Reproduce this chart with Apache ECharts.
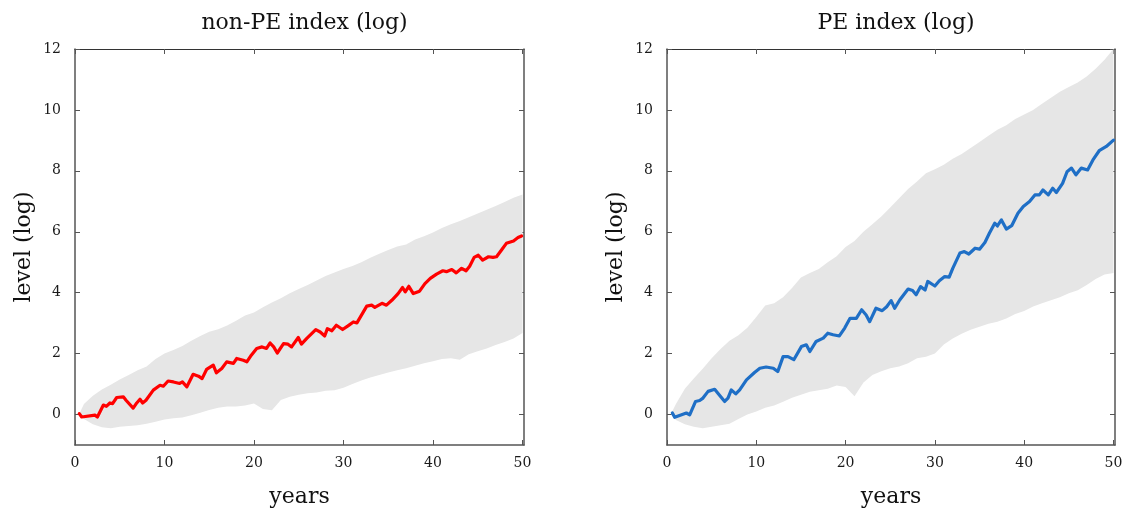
<!DOCTYPE html>
<html>
<head>
<meta charset="utf-8">
<script src="https://cdn.jsdelivr.net/npm/echarts@6/dist/echarts.min.js"></script>
<style>
html,body{margin:0;padding:0;background:#fff;}
#chart{width:1127px;height:513px;}
</style>
</head>
<body>
<div id="chart"></div>
<script>
// ---- data ----
const panelTitles = ['non-PE index (log)', 'PE index (log)'];
const xTickValues = [0, 10, 20, 30, 40, 50];
const yTickValues = [0, 2, 4, 6, 8, 10, 12];

const bandYears = [0.5,1,2,3,4,5,6,7,8,9,10,11,12,13,14,15,16,17,18,19,20,21,22,23,24,25,26,27,28,29,30,31,32,33,34,35,36,37,38,39,40,41,42,43,44,45,46,47,48,49,50];

const nonPeUpper = [0.03,0.35,0.62,0.82,0.98,1.15,1.30,1.45,1.58,1.82,2.0,2.12,2.25,2.42,2.58,2.72,2.80,2.92,3.08,3.25,3.35,3.52,3.68,3.82,3.98,4.12,4.25,4.40,4.55,4.66,4.78,4.88,5.0,5.15,5.28,5.40,5.52,5.58,5.75,5.85,5.98,6.12,6.25,6.35,6.48,6.6,6.72,6.85,6.98,7.12,7.22];
const nonPeLower = [0.0,-0.15,-0.32,-0.42,-0.45,-0.40,-0.38,-0.35,-0.30,-0.24,-0.16,-0.12,-0.10,-0.02,0.06,0.15,0.22,0.26,0.26,0.30,0.36,0.18,0.14,0.48,0.58,0.65,0.70,0.72,0.78,0.80,0.88,1.0,1.12,1.22,1.30,1.38,1.45,1.52,1.60,1.68,1.75,1.82,1.85,1.80,1.98,2.08,2.17,2.28,2.38,2.50,2.68];

const peUpper = [0.05,0.35,0.85,1.18,1.5,1.85,2.15,2.42,2.6,2.85,3.2,3.58,3.65,3.85,4.15,4.5,4.65,4.78,5.0,5.2,5.5,5.7,6.0,6.25,6.5,6.8,7.1,7.4,7.65,7.92,8.05,8.2,8.4,8.55,8.75,8.95,9.15,9.35,9.5,9.7,9.85,10.0,10.2,10.4,10.6,10.75,10.9,11.1,11.35,11.65,12.0];
const peLower = [0.0,-0.18,-0.32,-0.4,-0.45,-0.4,-0.35,-0.3,-0.15,0.0,0.1,0.22,0.3,0.42,0.55,0.65,0.75,0.8,0.85,0.95,0.9,0.6,1.05,1.3,1.42,1.52,1.58,1.68,1.85,1.9,2.0,2.3,2.5,2.65,2.78,2.88,2.98,3.05,3.15,3.3,3.4,3.55,3.65,3.75,3.85,3.98,4.08,4.25,4.45,4.6,4.65];

const nonPeYears = [0.48,0.75,2.23,2.5,3.17,3.5,3.9,4.2,4.66,5.4,5.7,6.5,6.9,7.26,7.56,7.93,8.75,9.5,9.87,10.4,11.0,11.7,12.0,12.5,13.2,13.8,14.2,14.7,15.45,15.8,16.4,16.95,17.7,18.07,18.8,19.2,19.7,20.3,20.9,21.4,21.8,22.2,22.6,23.3,23.8,24.2,24.95,25.3,25.9,26.9,27.4,27.9,28.2,28.7,29.2,29.9,30.5,31.1,31.5,32.6,33.15,33.5,34.3,34.8,35.4,36.1,36.6,36.9,37.3,37.8,38.5,39.1,39.7,40.4,41.1,41.5,42.1,42.6,43.2,43.7,44.1,44.6,45.06,45.55,46.2,46.7,47.1,47.7,48.2,49.0,49.5,49.9];
const nonPeIndex = [0.03,-0.08,-0.02,-0.08,0.31,0.27,0.38,0.36,0.56,0.58,0.47,0.21,0.38,0.50,0.38,0.47,0.80,0.96,0.93,1.10,1.07,1.02,1.07,0.91,1.32,1.26,1.18,1.48,1.62,1.37,1.51,1.73,1.68,1.84,1.78,1.73,1.95,2.17,2.22,2.17,2.35,2.22,2.02,2.33,2.31,2.22,2.53,2.31,2.50,2.79,2.71,2.58,2.82,2.75,2.93,2.79,2.91,3.04,3.01,3.56,3.59,3.52,3.65,3.59,3.75,3.97,4.17,4.03,4.21,3.97,4.05,4.30,4.47,4.61,4.72,4.69,4.76,4.65,4.80,4.72,4.87,5.16,5.23,5.07,5.18,5.16,5.18,5.42,5.62,5.70,5.81,5.86];

const peYears = [0.6,0.86,2.17,2.54,3.2,3.66,4.03,4.6,5.34,5.7,6.46,6.83,7.2,7.7,8.14,8.9,9.8,10.4,11.1,11.9,12.4,13.0,13.55,14.2,15.05,15.6,16.0,16.7,17.5,18.0,18.6,19.3,19.9,20.5,21.2,21.8,22.3,22.7,23.4,24.1,24.6,25.1,25.5,26.06,27.0,27.5,27.9,28.4,28.9,29.2,30.0,30.5,31.1,31.6,32.0,32.8,33.3,33.8,34.5,35.0,35.6,36.1,36.7,37.0,37.45,38.0,38.6,39.3,39.9,40.6,41.2,41.7,42.1,42.7,43.2,43.6,44.3,44.8,45.3,45.8,46.4,47.1,47.7,48.4,49.2,50.0];
const peIndex = [0.05,-0.09,0.05,-0.01,0.43,0.46,0.54,0.76,0.83,0.70,0.43,0.54,0.81,0.68,0.81,1.14,1.38,1.52,1.56,1.52,1.41,1.90,1.90,1.80,2.23,2.29,2.07,2.40,2.51,2.67,2.62,2.58,2.84,3.16,3.16,3.44,3.27,3.05,3.49,3.41,3.54,3.74,3.49,3.76,4.12,4.07,3.93,4.20,4.09,4.37,4.22,4.39,4.53,4.51,4.80,5.30,5.35,5.27,5.46,5.43,5.65,5.95,6.28,6.19,6.39,6.09,6.20,6.61,6.83,6.99,7.21,7.21,7.37,7.21,7.43,7.29,7.59,7.97,8.09,7.87,8.09,8.03,8.36,8.66,8.80,9.01];

// ---- chart ----
const FONT = 'DejaVu Serif';
const AXIS_COLOR = '#555';
const chart = echarts.init(document.getElementById('chart'), null, {renderer: 'canvas'});

const grids = [
  {left: 75, top: 49, width: 449, height: 396},
  {left: 667, top: 49, width: 448, height: 396}
];

function zip(a, b) { return a.map((v, i) => [v, b[i]]); }

const xAxes = [], yAxes = [], series = [], titles = [];
const bands = [[nonPeLower, nonPeUpper], [peLower, peUpper]];
const lines = [[nonPeYears, nonPeIndex, '#ff0000'], [peYears, peIndex, '#1f6fc6']];

grids.forEach((g, gi) => {
  titles.push({
    text: panelTitles[gi],
    left: g.left + g.width / 2,
    top: 7,
    textAlign: 'center',
    textStyle: {fontFamily: FONT, fontSize: 22, fontWeight: 'normal', color: '#111'}
  });
  const common = {
    type: 'value', gridIndex: gi,
    axisLine: {show: true, onZero: false, lineStyle: {color: AXIS_COLOR, width: 1.5}},
    splitLine: {show: false}
  };
  xAxes.push(Object.assign({}, common, {
    min: 0, max: 50.17, position: 'bottom',
    name: 'years', nameLocation: 'middle', nameGap: 41,
    nameTextStyle: {fontFamily: FONT, fontSize: 22, color: '#111'},
    axisTick: {inside: true, length: 5, lineStyle: {color: AXIS_COLOR}, customValues: xTickValues},
    axisLabel: {fontFamily: FONT, fontSize: 14, color: '#1a1a1a', margin: 11, customValues: xTickValues}
  }));
  xAxes.push(Object.assign({}, common, {
    min: 0, max: 50.17, position: 'top',
    axisLine: {show: true, onZero: false, lineStyle: {color: '#333', width: 1.2}},
    axisTick: {inside: true, length: 5, lineStyle: {color: AXIS_COLOR}, customValues: xTickValues},
    axisLabel: {show: false}
  }));
  yAxes.push(Object.assign({}, common, {
    min: -1, max: 12, position: 'left',
    name: 'level (log)', nameLocation: 'middle', nameGap: 40, nameRotate: 90,
    nameTextStyle: {fontFamily: FONT, fontSize: 22, color: '#111'},
    axisTick: {inside: true, length: 5, lineStyle: {color: AXIS_COLOR}, customValues: yTickValues},
    axisLabel: {fontFamily: FONT, fontSize: 14, color: '#1a1a1a', margin: 14, customValues: yTickValues}
  }));
  yAxes.push(Object.assign({}, common, {
    min: -1, max: 12, position: 'right',
    axisTick: {inside: true, length: 5, lineStyle: {color: AXIS_COLOR}, customValues: yTickValues},
    axisLabel: {show: false}
  }));

  const [lo, up] = bands[gi];
  const bandData = bandYears.map((yr, i) => [yr, lo[i], up[i]]);
  series.push({
    type: 'custom', xAxisIndex: gi * 2, yAxisIndex: gi * 2, z: 1, silent: true,
    encode: {x: 0, y: [1, 2]},
    data: bandData,
    renderItem: function (params, api) {
      if (params.dataIndex !== 0) return null;
      const pts = [];
      for (let i = 0; i < bandData.length; i++) pts.push(api.coord([bandData[i][0], bandData[i][2]]));
      for (let i = bandData.length - 1; i >= 0; i--) pts.push(api.coord([bandData[i][0], bandData[i][1]]));
      return {type: 'polygon', shape: {points: pts}, style: {fill: '#e6e6e6', stroke: null}};
    }
  });
  const [yrs, vals, col] = lines[gi];
  series.push({
    type: 'line', xAxisIndex: gi * 2, yAxisIndex: gi * 2, z: 3,
    data: zip(yrs, vals), showSymbol: false, smooth: false,
    lineStyle: {color: col, width: 3.2, join: 'round', cap: 'round'},
    itemStyle: {color: col}
  });
});

chart.setOption({
  animation: false,
  backgroundColor: '#ffffff',
  title: titles,
  grid: grids,
  xAxis: xAxes,
  yAxis: yAxes,
  series: series
});
</script>
</body>
</html>
